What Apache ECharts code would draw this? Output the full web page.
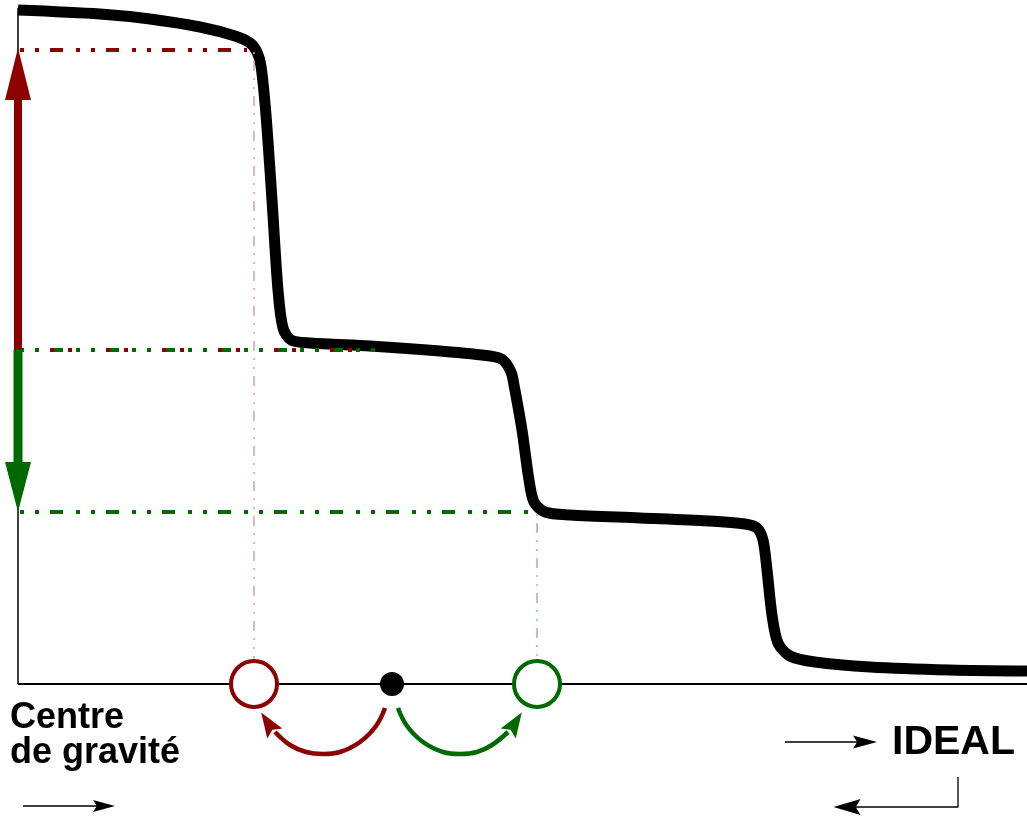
<!DOCTYPE html>
<html>
<head>
<meta charset="utf-8">
<script src="https://cdn.jsdelivr.net/npm/echarts@6/dist/echarts.min.js"></script>
<style>
  html, body { margin: 0; padding: 0; background: #fff; }
  #chart { width: 1027px; height: 819px; }
</style>
</head>
<body>
<div id="chart"></div>
<script>
  // x : position le long de l'axe, y : hauteur au-dessus de l'axe
  const curve = [[0, 674], [82, 670], [132, 665], [182, 657], [217, 648], [232, 641], [239, 632], [243, 618],
    [248, 569], [254, 484], [260, 394], [265, 356], [273, 344], [292, 341], [352, 338], [422, 333], [472, 328],
    [485, 324], [493, 312], [496, 299], [504, 254], [511, 204], [516, 182], [527, 172], [552, 169], [622, 166],
    [690, 163], [727, 160], [739, 156], [745, 144], [749, 114], [754, 69], [760, 41], [772, 28], [797, 22],
    [852, 17], [932, 14], [1009, 13]];

  const axisY = [[0, 0], [0, 676]];
  const axisX = [[0, 0], [1009, 0]];

  // niveaux et projections
  const redTop = [[0, 634], [229, 634]];
  const redMid = [[0, 334], [364, 334]];
  const greenMid = [[0, 334], [364, 334]];
  const greenLow = [[0, 172], [519, 172]];
  const redDrop = [[236, 634], [236, 0]];
  const greenDrop = [[519, 172], [519, 0]];

  // fleches verticales
  const redShaft = [[0, 334], [0, 610]];
  const redHead = [[0, 610]];
  const greenShaft = [[0, 334], [0, 197]];
  const greenHead = [[0, 197]];

  // points sur l'axe
  const redPoint = [[236, 0]];
  const greenPoint = [[519, 0]];
  const centre = [[374, 0]];

  // arcs sous l'axe
  const redArc = [[367, -24], [358, -42], [342, -58], [322, -68], [305, -70], [288, -68], [272, -61], [257, -48]];
  const redArcHead = [[250, -39]];
  const greenArc = [[380, -24], [389, -42], [405, -58], [425, -68], [442, -70], [459, -68], [474, -61], [490, -48]];
  const greenArcHead = [[497, -39]];

  // petites fleches noires
  const arrowLeft = [[5, -122], [86, -122]];
  const arrowLeftHead = [[86, -122]];
  const arrowIdeal = [[767, -58], [847, -58]];
  const arrowIdealHead = [[847, -58]];
  const arrowBack = [[940, -93], [940, -123], [829, -123]];
  const arrowBackHead = [[829, -123]];

  const RED = "#8e0000";
  const GREEN = "#006a00";
  const dashDot = [13, 13, 4, 11, 4, 11];
  const thinDashDot = [10, 7, 2, 7, 2, 7];
  const arrowPath = "path://M5,0L10,20L5,16.5L0,20Z";

  const seg = (data, color, width, type, z, extra) => Object.assign({
    type: "line",
    data: data,
    showSymbol: false,
    silent: true,
    z: z,
    lineStyle: { color: color, width: width, type: type || "solid", dashOffset: 24 },
  }, extra || {});

  const head = (data, symbol, size, rotate, color, z) => ({
    type: "scatter",
    data: data,
    symbol: symbol,
    symbolSize: size,
    symbolRotate: rotate,
    symbolKeepAspect: false,
    silent: true,
    z: z,
    itemStyle: { color: color, opacity: 1 },
  });

  const ring = (data, size, color, z) => ({
    type: "scatter",
    data: data,
    symbol: "circle",
    symbolSize: size,
    silent: true,
    z: z,
    itemStyle: { color: "#fff", borderColor: color, borderWidth: 4, opacity: 1 },
  });

  const chart = echarts.init(document.getElementById("chart"));
  chart.setOption({
    animation: false,
    backgroundColor: "#fff",
    grid: { left: 0, right: 0, top: 0, bottom: 0 },
    xAxis: { type: "value", min: -18, max: 1009, show: false },
    yAxis: { type: "value", min: -135, max: 684, show: false },
    graphic: [
      {
        type: "text", left: 10, top: 700,
        style: { text: "Centre\nde gravité", font: 'bold 36px "Liberation Sans", Arial, sans-serif', lineHeight: 35, fill: "#000" },
      },
      {
        type: "text", left: 892, top: 722,
        style: { text: "IDEAL", font: 'bold 41px "Liberation Sans", Arial, sans-serif', fill: "#000" },
      },
    ],
    series: [
      seg(axisY, "#000", 1.5, "solid", 2),
      seg(axisX, "#000", 2, "solid", 2),
      seg(curve, "#000", 11, "solid", 3, { smooth: 0.3 }),
      seg(redDrop, "#d9a0a0", 1.5, thinDashDot, 4),
      seg(greenDrop, "#5a9e5a", 1, thinDashDot, 4),
      seg(redTop, RED, 4, dashDot, 4),
      seg(greenMid, GREEN, 4, dashDot, 4),
      seg(redMid, RED, 4, [4, 14, 4, 34], 4),
      seg(greenLow, GREEN, 4, dashDot, 4),
      seg(redShaft, RED, 8, "solid", 6),
      seg(greenShaft, GREEN, 9, "solid", 6),
      head(redHead, "triangle", [26, 52], 0, RED, 7),
      head(greenHead, "triangle", [26, 50], 180, GREEN, 7),
      ring(redPoint, 46, RED, 7),
      ring(greenPoint, 46, GREEN, 7),
      head(centre, "circle", 24, 0, "#000", 7),
      seg(redArc, RED, 4.5, "solid", 6, { smooth: 0.4 }),
      seg(greenArc, GREEN, 4.5, "solid", 6, { smooth: 0.4 }),
      head(redArcHead, arrowPath, [18, 25], 33, RED, 7),
      head(greenArcHead, arrowPath, [18, 25], -33, GREEN, 7),
      seg(arrowLeft, "#000", 1.3, "solid", 6),
      head(arrowLeftHead, arrowPath, [12, 22], -90, "#000", 7),
      seg(arrowIdeal, "#000", 1.3, "solid", 6),
      head(arrowIdealHead, arrowPath, [13, 24], -90, "#000", 7),
      seg(arrowBack, "#000", 1.3, "solid", 6),
      head(arrowBackHead, arrowPath, [16, 27], 90, "#000", 7),
    ],
  });
</script>
</body>
</html>
